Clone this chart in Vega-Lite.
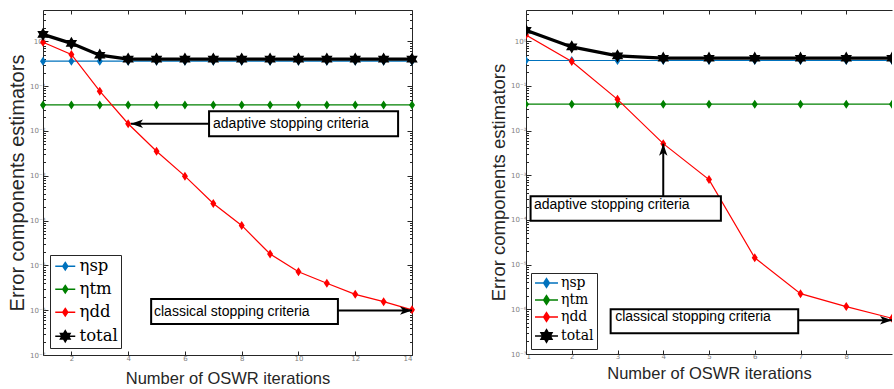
{
  "$schema": "https://vega.github.io/schema/vega-lite/v6.json",
  "padding": {"left": 7, "top": 9, "right": 0, "bottom": 0},
  "spacing": 65,
  "datasets": {
    "est": [
      {"panel":"A","series":"ηsp","iter":1,"value":0.36},{"panel":"A","series":"ηsp","iter":2,"value":0.36},{"panel":"A","series":"ηsp","iter":3,"value":0.36},{"panel":"A","series":"ηsp","iter":4,"value":0.36},{"panel":"A","series":"ηsp","iter":5,"value":0.36},{"panel":"A","series":"ηsp","iter":6,"value":0.36},{"panel":"A","series":"ηsp","iter":7,"value":0.36},{"panel":"A","series":"ηsp","iter":8,"value":0.36},{"panel":"A","series":"ηsp","iter":9,"value":0.36},{"panel":"A","series":"ηsp","iter":10,"value":0.36},{"panel":"A","series":"ηsp","iter":11,"value":0.36},{"panel":"A","series":"ηsp","iter":12,"value":0.36},{"panel":"A","series":"ηsp","iter":13,"value":0.36},{"panel":"A","series":"ηsp","iter":14,"value":0.36},
      {"panel":"A","series":"ηtm","iter":1,"value":0.038},{"panel":"A","series":"ηtm","iter":2,"value":0.038},{"panel":"A","series":"ηtm","iter":3,"value":0.038},{"panel":"A","series":"ηtm","iter":4,"value":0.038},{"panel":"A","series":"ηtm","iter":5,"value":0.038},{"panel":"A","series":"ηtm","iter":6,"value":0.038},{"panel":"A","series":"ηtm","iter":7,"value":0.038},{"panel":"A","series":"ηtm","iter":8,"value":0.038},{"panel":"A","series":"ηtm","iter":9,"value":0.038},{"panel":"A","series":"ηtm","iter":10,"value":0.038},{"panel":"A","series":"ηtm","iter":11,"value":0.038},{"panel":"A","series":"ηtm","iter":12,"value":0.038},{"panel":"A","series":"ηtm","iter":13,"value":0.038},{"panel":"A","series":"ηtm","iter":14,"value":0.038},
      {"panel":"A","series":"ηdd","iter":1,"value":0.95},{"panel":"A","series":"ηdd","iter":2,"value":0.51},{"panel":"A","series":"ηdd","iter":3,"value":0.077},{"panel":"A","series":"ηdd","iter":4,"value":0.0145},{"panel":"A","series":"ηdd","iter":5,"value":0.00353},{"panel":"A","series":"ηdd","iter":6,"value":0.00098},{"panel":"A","series":"ηdd","iter":7,"value":0.000241},{"panel":"A","series":"ηdd","iter":8,"value":0.000078},{"panel":"A","series":"ηdd","iter":9,"value":0.000018},{"panel":"A","series":"ηdd","iter":10,"value":0.0000072},{"panel":"A","series":"ηdd","iter":11,"value":0.000004},{"panel":"A","series":"ηdd","iter":12,"value":0.00000226},{"panel":"A","series":"ηdd","iter":13,"value":0.00000155},{"panel":"A","series":"ηdd","iter":14,"value":0.00000102},
      {"panel":"A","series":"total","iter":1,"value":1.43},{"panel":"A","series":"total","iter":2,"value":0.9},{"panel":"A","series":"total","iter":3,"value":0.49},{"panel":"A","series":"total","iter":4,"value":0.4},{"panel":"A","series":"total","iter":5,"value":0.4},{"panel":"A","series":"total","iter":6,"value":0.4},{"panel":"A","series":"total","iter":7,"value":0.4},{"panel":"A","series":"total","iter":8,"value":0.4},{"panel":"A","series":"total","iter":9,"value":0.4},{"panel":"A","series":"total","iter":10,"value":0.4},{"panel":"A","series":"total","iter":11,"value":0.4},{"panel":"A","series":"total","iter":12,"value":0.4},{"panel":"A","series":"total","iter":13,"value":0.4},{"panel":"A","series":"total","iter":14,"value":0.4},
      {"panel":"B","series":"ηsp","iter":1,"value":0.37},{"panel":"B","series":"ηsp","iter":2,"value":0.37},{"panel":"B","series":"ηsp","iter":3,"value":0.37},{"panel":"B","series":"ηsp","iter":4,"value":0.37},{"panel":"B","series":"ηsp","iter":5,"value":0.37},{"panel":"B","series":"ηsp","iter":6,"value":0.37},{"panel":"B","series":"ηsp","iter":7,"value":0.37},{"panel":"B","series":"ηsp","iter":8,"value":0.37},{"panel":"B","series":"ηsp","iter":9,"value":0.37},
      {"panel":"B","series":"ηtm","iter":1,"value":0.039},{"panel":"B","series":"ηtm","iter":2,"value":0.039},{"panel":"B","series":"ηtm","iter":3,"value":0.039},{"panel":"B","series":"ηtm","iter":4,"value":0.039},{"panel":"B","series":"ηtm","iter":5,"value":0.039},{"panel":"B","series":"ηtm","iter":6,"value":0.039},{"panel":"B","series":"ηtm","iter":7,"value":0.039},{"panel":"B","series":"ηtm","iter":8,"value":0.039},{"panel":"B","series":"ηtm","iter":9,"value":0.039},
      {"panel":"B","series":"ηdd","iter":1,"value":1.38},{"panel":"B","series":"ηdd","iter":2,"value":0.35},{"panel":"B","series":"ηdd","iter":3,"value":0.05},{"panel":"B","series":"ηdd","iter":4,"value":0.0051},{"panel":"B","series":"ηdd","iter":5,"value":0.0008},{"panel":"B","series":"ηdd","iter":6,"value":0.0000142},{"panel":"B","series":"ηdd","iter":7,"value":0.00000224},{"panel":"B","series":"ηdd","iter":8,"value":0.00000115},{"panel":"B","series":"ηdd","iter":9,"value":0.00000063},
      {"panel":"B","series":"total","iter":1,"value":1.76},{"panel":"B","series":"total","iter":2,"value":0.746},{"panel":"B","series":"total","iter":3,"value":0.47},{"panel":"B","series":"total","iter":4,"value":0.417},{"panel":"B","series":"total","iter":5,"value":0.417},{"panel":"B","series":"total","iter":6,"value":0.417},{"panel":"B","series":"total","iter":7,"value":0.417},{"panel":"B","series":"total","iter":8,"value":0.417},{"panel":"B","series":"total","iter":9,"value":0.417}
    ],
    "boxes": [
      {"panel":"A","label":"adaptive stopping criteria","x":6.85,"x2":13.51,"y":0.0274,"y2":0.0076,"tx":6.99,"ty":0.0145},
      {"panel":"A","label":"classical stopping criteria","x":4.81,"x2":11.39,"y":0.00000177,"y2":0.00000049,"tx":4.91,"ty":0.00000093},
      {"panel":"B","label":"adaptive stopping criteria","x":1.1,"x2":5.26,"y":0.00034,"y2":0.000096,"tx":1.175,"ty":0.000214},
      {"panel":"B","label":"classical stopping criteria","x":2.85,"x2":6.95,"y":0.000001,"y2":0.00000029,"tx":2.95,"ty":0.00000068}
    ],
    "arrows": [
      {"panel":"A","dir":"left","x0":6.85,"y0":0.0145,"x":4.1,"y":0.0145},
      {"panel":"A","dir":"right","x0":11.39,"y0":0.00000098,"x":14,"y":0.00000098},
      {"panel":"B","dir":"up","x0":4,"y0":0.00034,"x":4,"y":0.0051},
      {"panel":"B","dir":"right","x0":6.95,"y0":0.00000057,"x":9,"y":0.00000057}
    ]
  },
  "config": {
    "view": {"stroke": null},
    "axis": {"grid": false, "labelFont": "DejaVu Sans", "labelFontSize": 7, "labelColor": "#808080", "tickColor": "#262626", "domainColor": "#262626", "titleFont": "Liberation Sans", "titleFontWeight": "normal", "titleColor": "#262626"},
    "legend": {"labelFont": "DejaVu Serif", "labelColor": "#000000", "strokeColor": "#262626", "fillColor": "#ffffff", "labelBaseline": "middle"}
  },
  "resolve": {"scale": {"color": "shared", "shape": "shared"}, "legend": {"color": "independent", "shape": "independent"}},
  "hconcat": [
    {
      "width": 369, "height": 345,
      "resolve": {"axis": {"x": "independent", "y": "independent"}},
      "layer": [
        {
          "data": {"name": "est"},
          "transform": [{"filter": "datum.panel === 'A' && datum.series !== 'total'"}],
          "mark": {"type": "line", "strokeWidth": 1.2},
          "encoding": {
            "x": {"field": "iter", "type": "quantitative", "scale": {"domain": [1, 14], "nice": false}, "axis": {"values": [2, 4, 6, 8, 10, 12, 14], "title": "Number of OSWR iterations", "titleFontSize": 16.5, "titlePadding": 9, "tickSize": -4, "labelPadding": 3}},
            "y": {"field": "value", "type": "quantitative", "scale": {"type": "log", "domain": [1e-7, 5], "nice": false}, "axis": {"values": [1e-7, 1e-6, 1e-5, 1e-4, 1e-3, 1e-2, 1e-1, 1], "labelExpr": "'10' + ['⁰','⁻¹','⁻²','⁻³','⁻⁴','⁻⁵','⁻⁶','⁻⁷'][round(-log(datum.value)/LN10)]", "title": "Error components estimators", "titleFontSize": 20, "titlePadding": 2, "tickSize": -5, "labelPadding": 3}},
            "color": {"field": "series", "type": "nominal", "scale": {"domain": ["ηsp", "ηtm", "ηdd", "total"], "range": ["#0072BD", "#008000", "#FF0000", "#000000"]}}
          }
        },
        {
          "data": {"name": "est"},
          "transform": [{"filter": "datum.panel === 'A' && datum.series === 'total'"}],
          "mark": {"type": "line", "strokeWidth": 3.2, "color": "#000000"},
          "encoding": {
            "x": {"field": "iter", "type": "quantitative", "scale": {"domain": [1, 14], "nice": false}, "axis": null},
            "y": {"field": "value", "type": "quantitative", "scale": {"type": "log", "domain": [1e-7, 5], "nice": false}, "axis": null}
          }
        },
        {
          "data": {"name": "est"},
          "transform": [{"filter": "datum.panel === 'A'"}],
          "mark": {"type": "point", "filled": true, "size": 144, "opacity": 1},
          "encoding": {
            "x": {"field": "iter", "type": "quantitative", "scale": {"domain": [1, 14], "nice": false}, "axis": null},
            "y": {"field": "value", "type": "quantitative", "scale": {"type": "log", "domain": [1e-7, 5], "nice": false}, "axis": null},
            "color": {"field": "series", "type": "nominal", "scale": {"domain": ["ηsp", "ηtm", "ηdd", "total"], "range": ["#0072BD", "#008000", "#FF0000", "#000000"]},
              "legend": {"title": null, "orient": "bottom-left", "offset": 7, "padding": 3, "symbolSize": 100, "symbolOffset": 4, "labelOffset": 6, "rowPadding": 6, "labelFontSize": 16.5,
                "encode": {"symbols": {"update": {"fill": {"signal": "scale('color', datum.value)"}, "stroke": {"signal": "scale('color', datum.value)"}, "strokeWidth": {"signal": "datum.value === 'total' ? 3 : 1.2"}, "opacity": {"value": 1}}}}}},
            "shape": {"field": "series", "type": "nominal", "scale": {"domain": ["ηsp", "ηtm", "ηdd", "total"], "range": ["M-2,0H2M0,-0.75L0.5,0L0,0.75L-0.5,0Z", "M-2,0H2M0,-0.75L0.5,0L0,0.75L-0.5,0Z", "M-2,0H2M0,-0.75L0.5,0L0,0.75L-0.5,0Z", "M-2,0H2M0,-1.1L0.318,-0.55L0.953,-0.55L0.635,0L0.953,0.55L0.318,0.55L0,1.1L-0.318,0.55L-0.953,0.55L-0.635,0L-0.953,-0.55L-0.318,-0.55Z"]},
              "legend": {"title": null, "orient": "bottom-left", "offset": 7, "padding": 3, "symbolSize": 100, "symbolOffset": 4, "labelOffset": 6, "rowPadding": 6, "labelFontSize": 16.5}}
          }
        },
        {
          "data": {"name": "est"},
          "transform": [{"filter": "datum.panel === 'A'"}],
          "mark": {"type": "point", "opacity": 0},
          "encoding": {
            "x": {"field": "iter", "type": "quantitative", "scale": {"domain": [1, 14], "nice": false}, "axis": {"orient": "top", "values": [2, 4, 6, 8, 10, 12, 14], "labels": false, "title": null, "tickSize": -4}},
            "y": {"field": "value", "type": "quantitative", "scale": {"type": "log", "domain": [1e-7, 5], "nice": false}, "axis": {"orient": "right", "values": [1e-7, 1e-6, 1e-5, 1e-4, 1e-3, 1e-2, 1e-1, 1], "labels": false, "title": null, "tickSize": -5}}
          }
        },
        {
          "data": {"name": "est"},
          "transform": [{"filter": "datum.panel === 'A'"}],
          "mark": {"type": "point", "opacity": 0},
          "encoding": {
            "x": {"field": "iter", "type": "quantitative", "scale": {"domain": [1, 14], "nice": false}, "axis": null},
            "y": {"field": "value", "type": "quantitative", "scale": {"type": "log", "domain": [1e-7, 5], "nice": false}, "axis": {"orient": "left", "values": [2e-7,3e-7,4e-7,5e-7,6e-7,7e-7,8e-7,9e-7,2e-6,3e-6,4e-6,5e-6,6e-6,7e-6,8e-6,9e-6,2e-5,3e-5,4e-5,5e-5,6e-5,7e-5,8e-5,9e-5,2e-4,3e-4,4e-4,5e-4,6e-4,7e-4,8e-4,9e-4,2e-3,3e-3,4e-3,5e-3,6e-3,7e-3,8e-3,9e-3,0.02,0.03,0.04,0.05,0.06,0.07,0.08,0.09,0.2,0.3,0.4,0.5,0.6,0.7,0.8,0.9,2,3,4], "labels": false, "domain": false, "title": null, "tickSize": -2.5}}
          }
        },
        {
          "data": {"name": "est"},
          "transform": [{"filter": "datum.panel === 'A'"}],
          "mark": {"type": "point", "opacity": 0},
          "encoding": {
            "x": {"field": "iter", "type": "quantitative", "scale": {"domain": [1, 14], "nice": false}, "axis": null},
            "y": {"field": "value", "type": "quantitative", "scale": {"type": "log", "domain": [1e-7, 5], "nice": false}, "axis": {"orient": "right", "values": [2e-7,3e-7,4e-7,5e-7,6e-7,7e-7,8e-7,9e-7,2e-6,3e-6,4e-6,5e-6,6e-6,7e-6,8e-6,9e-6,2e-5,3e-5,4e-5,5e-5,6e-5,7e-5,8e-5,9e-5,2e-4,3e-4,4e-4,5e-4,6e-4,7e-4,8e-4,9e-4,2e-3,3e-3,4e-3,5e-3,6e-3,7e-3,8e-3,9e-3,0.02,0.03,0.04,0.05,0.06,0.07,0.08,0.09,0.2,0.3,0.4,0.5,0.6,0.7,0.8,0.9,2,3,4], "labels": false, "domain": false, "title": null, "tickSize": -2.5}}
          }
        },
        {
          "data": {"name": "arrows"},
          "transform": [{"filter": "datum.panel === 'A'"}],
          "mark": {"type": "rule", "color": "#000000", "strokeWidth": 2},
          "encoding": {
            "x": {"field": "x0", "type": "quantitative", "scale": {"domain": [1, 14], "nice": false}, "axis": null},
            "x2": {"field": "x"},
            "y": {"field": "y0", "type": "quantitative", "scale": {"type": "log", "domain": [1e-7, 5], "nice": false}, "axis": null},
            "y2": {"field": "y"}
          }
        },
        {
          "data": {"name": "arrows"},
          "transform": [{"filter": "datum.panel === 'A' && datum.dir === 'left'"}],
          "mark": {"type": "point", "filled": true, "opacity": 1, "color": "#000000", "size": 144, "shape": "M0,0L2,-0.7L1.5,0L2,0.7Z"},
          "encoding": {
            "x": {"field": "x", "type": "quantitative", "scale": {"domain": [1, 14], "nice": false}, "axis": null},
            "y": {"field": "y", "type": "quantitative", "scale": {"type": "log", "domain": [1e-7, 5], "nice": false}, "axis": null}
          }
        },
        {
          "data": {"name": "arrows"},
          "transform": [{"filter": "datum.panel === 'A' && datum.dir === 'right'"}],
          "mark": {"type": "point", "filled": true, "opacity": 1, "color": "#000000", "size": 144, "shape": "M0,0L-2,-0.7L-1.5,0L-2,0.7Z"},
          "encoding": {
            "x": {"field": "x", "type": "quantitative", "scale": {"domain": [1, 14], "nice": false}, "axis": null},
            "y": {"field": "y", "type": "quantitative", "scale": {"type": "log", "domain": [1e-7, 5], "nice": false}, "axis": null}
          }
        },
        {
          "data": {"name": "boxes"},
          "transform": [{"filter": "datum.panel === 'A'"}],
          "mark": {"type": "rect", "fill": "#ffffff", "stroke": "#000000", "strokeWidth": 2},
          "encoding": {
            "x": {"field": "x", "type": "quantitative", "scale": {"domain": [1, 14], "nice": false}, "axis": null},
            "x2": {"field": "x2"},
            "y": {"field": "y", "type": "quantitative", "scale": {"type": "log", "domain": [1e-7, 5], "nice": false}, "axis": null},
            "y2": {"field": "y2"}
          }
        },
        {
          "data": {"name": "boxes"},
          "transform": [{"filter": "datum.panel === 'A'"}],
          "mark": {"type": "text", "align": "left", "baseline": "middle", "font": "Liberation Sans", "fontSize": 14, "color": "#000000"},
          "encoding": {
            "x": {"field": "tx", "type": "quantitative", "scale": {"domain": [1, 14], "nice": false}, "axis": null},
            "y": {"field": "ty", "type": "quantitative", "scale": {"type": "log", "domain": [1e-7, 5], "nice": false}, "axis": null},
            "text": {"field": "label"}
          }
        }
      ]
    },
    {
      "width": 366, "height": 344,
      "resolve": {"axis": {"x": "independent", "y": "independent"}},
      "layer": [
        {
          "data": {"name": "est"},
          "transform": [{"filter": "datum.panel === 'B' && datum.series !== 'total'"}],
          "mark": {"type": "line", "strokeWidth": 1.2, "clip": true},
          "encoding": {
            "x": {"field": "iter", "type": "quantitative", "scale": {"domain": [1, 9], "nice": false}, "axis": {"values": [1, 2, 3, 4, 5, 6, 7, 8], "title": "Number of OSWR iterations", "titleFontSize": 16.5, "titlePadding": 6, "tickSize": -4, "labelPadding": 2}},
            "y": {"field": "value", "type": "quantitative", "scale": {"type": "log", "domain": [1e-7, 5], "nice": false}, "axis": {"values": [1e-7, 1e-6, 1e-5, 1e-4, 1e-3, 1e-2, 1e-1, 1], "labelExpr": "'10' + ['⁰','⁻¹','⁻²','⁻³','⁻⁴','⁻⁵','⁻⁶','⁻⁷'][round(-log(datum.value)/LN10)]", "title": "Error components estimators", "titleFontSize": 18.5, "titlePadding": 2, "tickSize": -5, "labelPadding": 5}},
            "color": {"field": "series", "type": "nominal", "scale": {"domain": ["ηsp", "ηtm", "ηdd", "total"], "range": ["#0072BD", "#008000", "#FF0000", "#000000"]}}
          }
        },
        {
          "data": {"name": "est"},
          "transform": [{"filter": "datum.panel === 'B' && datum.series === 'total'"}],
          "mark": {"type": "line", "strokeWidth": 3.2, "color": "#000000", "clip": true},
          "encoding": {
            "x": {"field": "iter", "type": "quantitative", "scale": {"domain": [1, 9], "nice": false}, "axis": null},
            "y": {"field": "value", "type": "quantitative", "scale": {"type": "log", "domain": [1e-7, 5], "nice": false}, "axis": null}
          }
        },
        {
          "data": {"name": "est"},
          "transform": [{"filter": "datum.panel === 'B'"}],
          "mark": {"type": "point", "filled": true, "size": 144, "opacity": 1, "clip": true},
          "encoding": {
            "x": {"field": "iter", "type": "quantitative", "scale": {"domain": [1, 9], "nice": false}, "axis": null},
            "y": {"field": "value", "type": "quantitative", "scale": {"type": "log", "domain": [1e-7, 5], "nice": false}, "axis": null},
            "color": {"field": "series", "type": "nominal", "scale": {"domain": ["ηsp", "ηtm", "ηdd", "total"], "range": ["#0072BD", "#008000", "#FF0000", "#000000"]},
              "legend": {"title": null, "orient": "bottom-left", "offset": 5, "padding": 3, "symbolSize": 132, "symbolOffset": 5.5, "labelOffset": 7.5, "rowPadding": 1, "labelFontSize": 14,
                "encode": {"symbols": {"update": {"fill": {"signal": "scale('color', datum.value)"}, "stroke": {"signal": "scale('color', datum.value)"}, "strokeWidth": {"signal": "datum.value === 'total' ? 3 : 1.2"}, "opacity": {"value": 1}}}}}},
            "shape": {"field": "series", "type": "nominal", "scale": {"domain": ["ηsp", "ηtm", "ηdd", "total"], "range": ["M-2,0H2M0,-0.75L0.5,0L0,0.75L-0.5,0Z", "M-2,0H2M0,-0.75L0.5,0L0,0.75L-0.5,0Z", "M-2,0H2M0,-0.75L0.5,0L0,0.75L-0.5,0Z", "M-2,0H2M0,-1.1L0.318,-0.55L0.953,-0.55L0.635,0L0.953,0.55L0.318,0.55L0,1.1L-0.318,0.55L-0.953,0.55L-0.635,0L-0.953,-0.55L-0.318,-0.55Z"]},
              "legend": {"title": null, "orient": "bottom-left", "offset": 5, "padding": 3, "symbolSize": 132, "symbolOffset": 5.5, "labelOffset": 7.5, "rowPadding": 1, "labelFontSize": 14}}
          }
        },
        {
          "data": {"name": "est"},
          "transform": [{"filter": "datum.panel === 'B'"}],
          "mark": {"type": "point", "opacity": 0},
          "encoding": {
            "x": {"field": "iter", "type": "quantitative", "scale": {"domain": [1, 9], "nice": false}, "axis": {"orient": "top", "values": [2, 3, 4, 5, 6, 7, 8], "labels": false, "title": null, "tickSize": -4}},
            "y": {"field": "value", "type": "quantitative", "scale": {"type": "log", "domain": [1e-7, 5], "nice": false}, "axis": {"orient": "left", "values": [2e-7,3e-7,4e-7,5e-7,6e-7,7e-7,8e-7,9e-7,2e-6,3e-6,4e-6,5e-6,6e-6,7e-6,8e-6,9e-6,2e-5,3e-5,4e-5,5e-5,6e-5,7e-5,8e-5,9e-5,2e-4,3e-4,4e-4,5e-4,6e-4,7e-4,8e-4,9e-4,2e-3,3e-3,4e-3,5e-3,6e-3,7e-3,8e-3,9e-3,0.02,0.03,0.04,0.05,0.06,0.07,0.08,0.09,0.2,0.3,0.4,0.5,0.6,0.7,0.8,0.9,2,3,4], "labels": false, "domain": false, "title": null, "tickSize": -2.5}}
          }
        },
        {
          "data": {"name": "arrows"},
          "transform": [{"filter": "datum.panel === 'B'"}],
          "mark": {"type": "rule", "color": "#000000", "strokeWidth": 2, "clip": true},
          "encoding": {
            "x": {"field": "x0", "type": "quantitative", "scale": {"domain": [1, 9], "nice": false}, "axis": null},
            "x2": {"field": "x"},
            "y": {"field": "y0", "type": "quantitative", "scale": {"type": "log", "domain": [1e-7, 5], "nice": false}, "axis": null},
            "y2": {"field": "y"}
          }
        },
        {
          "data": {"name": "arrows"},
          "transform": [{"filter": "datum.panel === 'B' && datum.dir === 'up'"}],
          "mark": {"type": "point", "filled": true, "opacity": 1, "color": "#000000", "size": 144, "shape": "M0,0L-0.7,2L0,1.5L0.7,2Z"},
          "encoding": {
            "x": {"field": "x", "type": "quantitative", "scale": {"domain": [1, 9], "nice": false}, "axis": null},
            "y": {"field": "y", "type": "quantitative", "scale": {"type": "log", "domain": [1e-7, 5], "nice": false}, "axis": null}
          }
        },
        {
          "data": {"name": "arrows"},
          "transform": [{"filter": "datum.panel === 'B' && datum.dir === 'right'"}],
          "mark": {"type": "point", "filled": true, "opacity": 1, "color": "#000000", "size": 144, "shape": "M0,0L-2,-0.7L-1.5,0L-2,0.7Z", "clip": true},
          "encoding": {
            "x": {"field": "x", "type": "quantitative", "scale": {"domain": [1, 9], "nice": false}, "axis": null},
            "y": {"field": "y", "type": "quantitative", "scale": {"type": "log", "domain": [1e-7, 5], "nice": false}, "axis": null}
          }
        },
        {
          "data": {"name": "boxes"},
          "transform": [{"filter": "datum.panel === 'B'"}],
          "mark": {"type": "rect", "fill": "#ffffff", "stroke": "#000000", "strokeWidth": 2},
          "encoding": {
            "x": {"field": "x", "type": "quantitative", "scale": {"domain": [1, 9], "nice": false}, "axis": null},
            "x2": {"field": "x2"},
            "y": {"field": "y", "type": "quantitative", "scale": {"type": "log", "domain": [1e-7, 5], "nice": false}, "axis": null},
            "y2": {"field": "y2"}
          }
        },
        {
          "data": {"name": "boxes"},
          "transform": [{"filter": "datum.panel === 'B'"}],
          "mark": {"type": "text", "align": "left", "baseline": "middle", "font": "Liberation Sans", "fontSize": 14, "color": "#000000"},
          "encoding": {
            "x": {"field": "tx", "type": "quantitative", "scale": {"domain": [1, 9], "nice": false}, "axis": null},
            "y": {"field": "ty", "type": "quantitative", "scale": {"type": "log", "domain": [1e-7, 5], "nice": false}, "axis": null},
            "text": {"field": "label"}
          }
        }
      ]
    }
  ]
}
